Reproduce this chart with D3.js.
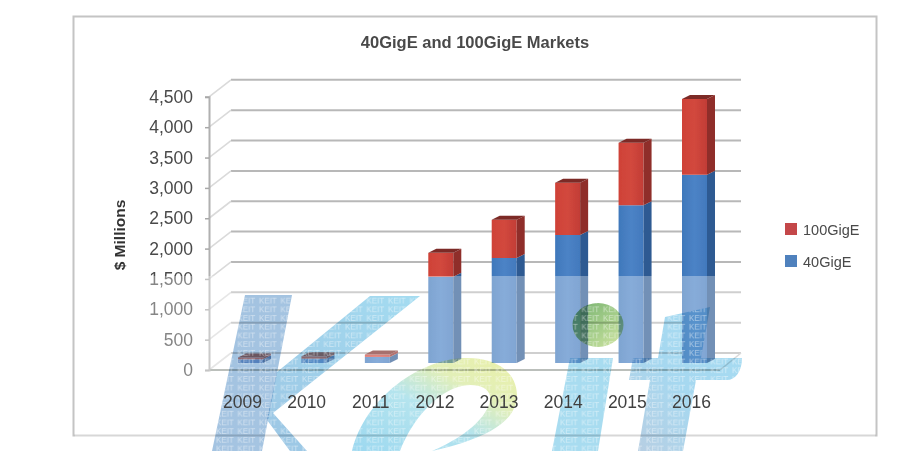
<!DOCTYPE html>
<html>
<head>
<meta charset="utf-8">
<script src="https://cdn.jsdelivr.net/npm/d3@7/dist/d3.min.js"></script>
<style>
html,body{margin:0;padding:0;background:#fff;overflow:hidden}
svg{display:block}
text{font-family:"Liberation Sans",Arial,sans-serif}
.wm{mix-blend-mode:multiply}
</style>
</head>
<body>
<svg id="c" width="913" height="451"></svg>
<script>
const years = ["2009","2010","2011","2012","2013","2014","2015","2016"];
const values40 = [60,70,100,1420,1730,2110,2600,3100];
const values100 = [30,40,40,395,630,860,1030,1250];
const yTicks = [0,500,1000,1500,2000,2500,3000,3500,4000,4500];
const legendItems = ["100GigE","40GigE"];
const titleText = "40GigE and 100GigE Markets";
const yTitle = "$ Millions";
const watermarkWord = "KEIT";

const svg = d3.select("#c");
const defs = svg.append("defs");
defs.append("filter").attr("id","soft").attr("x","-5%").attr("y","-5%").attr("width","110%").attr("height","110%")
  .append("feGaussianBlur").attr("stdDeviation",0.6);
defs.append("filter").attr("id","softer").attr("x","-5%").attr("y","-5%").attr("width","110%").attr("height","110%")
  .append("feGaussianBlur").attr("stdDeviation",0.35);

function grad(id,x1,y1,x2,y2,stops){
  const g = defs.append("linearGradient").attr("id",id).attr("x1",x1).attr("y1",y1).attr("x2",x2).attr("y2",y2);
  stops.forEach(s=>g.append("stop").attr("offset",s[0]).attr("stop-color",s[1]));
}
grad("gRed",0,0,1,0,[[0,"#cf4238"],[.5,"#d2483d"],[1,"#c23d36"]]);
grad("gBlue",0,0,1,0,[[0,"#3f78bb"],[.5,"#4c83c6"],[1,"#4279bd"]]);
grad("gK",0,0,1,1,[[0,"#a2c2e0"],[1,"#a6c5e2"]]);
grad("gArm",1,0,0,1,[[0,"#a4dcf1"],[1,"#9cc6e4"]]);
grad("gE",1,0,0,1,[[0,"#eaf0a8"],[.3,"#e2efb8"],[.55,"#b4e4ee"],[1,"#9cd8f0"]]);
grad("gDot",0,0,1,1,[[0,"#74b06f"],[.6,"#a9d08c"],[1,"#d3e6a4"]]);
grad("gT",0,0,1,1,[[0,"#a8d8ef"],[.5,"#aed9ef"],[1,"#b7cde2"]]);
grad("gT2",1,0,0,1,[[0,"#a6dcf2"],[.55,"#a6d8f0"],[1,"#b9cee2"]]);

const y0Front = 370, y0Back = 353, y0Bar = 363, pxPerUnit = 30.35/500;
const xFrontLeft = 209, xBackLeft = 231, xBackRight = 741, xFrontRight = 720;
const yFront = d3.scaleLinear().domain([0,4500]).range([y0Front,y0Front-4500*pxPerUnit]);
const yBack  = d3.scaleLinear().domain([0,4500]).range([y0Back,y0Back-4500*pxPerUnit]);
const yBar   = d3.scaleLinear().domain([0,4500]).range([y0Bar,y0Bar-4500*pxPerUnit]);
const xBar   = d3.scalePoint().domain(years).range([238,682]);
const xLabel = d3.scalePoint().domain(years).range([242,691]);
const barW = 25, depthX = 8, depthY = 4;

// chart frame
svg.append("rect").attr("x",73.5).attr("y",16.5).attr("width",803).attr("height",419)
  .attr("fill","#fff").attr("stroke","#c4c4c4").attr("stroke-width",2);

const chart = svg.append("g").attr("filter","url(#soft)");

// back gridlines and wall diagonals
chart.append("g").selectAll("line").data(yTicks).join("line")
  .attr("x1",xBackLeft).attr("x2",xBackRight)
  .attr("y1",d=>yBack(d)).attr("y2",d=>yBack(d))
  .attr("stroke","#b8b8b8").attr("stroke-width",2);
chart.append("g").selectAll("line").data(yTicks).join("line")
  .attr("x1",xFrontLeft).attr("x2",xBackLeft)
  .attr("y1",d=>yFront(d)).attr("y2",d=>yBack(d))
  .attr("stroke","#dadada").attr("stroke-width",1.6);
// floor
chart.append("line").attr("x1",xFrontLeft).attr("x2",xFrontRight).attr("y1",y0Front).attr("y2",y0Front)
  .attr("stroke","#9aa09a").attr("stroke-width",2);
chart.append("line").attr("x1",xFrontRight).attr("x2",xBackRight).attr("y1",y0Front).attr("y2",y0Back)
  .attr("stroke","#c8c8c8").attr("stroke-width",1.6);

// bars
const pts = a => a.map(p=>p.join(",")).join(" ");
function face(g,x,vLow,vHigh,fillFront,fillSide,fillTop,top){
  const yl = yBar(vLow), yh = yBar(vHigh);
  g.append("polygon").attr("fill",fillFront)
    .attr("points",pts([[x,yl],[x+barW,yl],[x+barW,yh],[x,yh]]));
  g.append("polygon").attr("fill",fillSide)
    .attr("points",pts([[x+barW,yl],[x+barW+depthX,yl-depthY],[x+barW+depthX,yh-depthY],[x+barW,yh]]));
  if(top) g.append("polygon").attr("fill",fillTop)
    .attr("points",pts([[x,yh],[x+barW,yh],[x+barW+depthX,yh-depthY],[x+depthX,yh-depthY]]));
}
const barsG = chart.append("g");
years.forEach((yr,i)=>{
  const x = xBar(yr);
  const g = barsG.append("g");
  face(g,x,0,values40[i],"url(#gBlue)","#2f5a92","#3a6aa6",false);
  face(g,x,values40[i],values40[i]+values100[i],"url(#gRed)","#8f2f2a","#7c2a26",true);
});

// value axis
const axisL = d3.axisLeft(yFront).tickValues(yTicks).tickSize(4).tickPadding(12).tickFormat(d3.format(","));
const ax = chart.append("g").attr("transform",`translate(${xFrontLeft},0)`).call(axisL);
ax.select(".domain").attr("stroke","#b0b0b0").attr("stroke-width",2);
ax.selectAll("line").attr("stroke","#a8a8a8").attr("stroke-width",1.5);
ax.selectAll("text").attr("font-size",17.5).attr("fill","#4a4a4a").style("font-family",'"Liberation Sans",Arial,sans-serif');

// titles
chart.append("text").attr("x",475).attr("y",48).attr("text-anchor","middle")
  .attr("font-size",16.5).attr("font-weight",700).attr("fill","#4a4a4a").text(titleText);
chart.append("text").attr("transform","translate(125,235) rotate(-90)").attr("text-anchor","middle")
  .attr("font-size",15.5).attr("font-weight",700).attr("fill","#333").text(yTitle);

// legend
const legColors = ["#c4474a","#4f81bd"];
const legY = d3.scalePoint().domain(legendItems).range([229,261]);
const leg = chart.append("g").selectAll("g").data(legendItems).join("g")
  .attr("transform",d=>`translate(785,${legY(d)})`);
leg.append("rect").attr("x",0).attr("y",-6).attr("width",12).attr("height",12).attr("fill",(d,i)=>legColors[i]);
leg.append("text").attr("x",18).attr("y",5.5).attr("font-size",14.5).attr("fill","#4a4a4a").text(d=>d);

// watermark wash
svg.append("rect").attr("x",75).attr("y",276).attr("width",800).attr("height",175).attr("fill","#fff").attr("opacity",.33);

// watermark letters
const shapes = [
 {d:"M245,295 L292,295 L262,451 L212,451 Z", f:"url(#gK)"},
 {d:"M277,372 L370,296 L420,296 L273,413 L307,451 L290,451 L267,420 Z", f:"url(#gArm)"},
 {d:"M352,451 C365,398 420,358 467,358 C500,358 517,375 517,395 C517,420 490,438 432,451 C470,435 492,412 490,396 C488,385 470,382 455,388 C430,398 410,425 400,451 Z", f:"url(#gE)"},
 {d:"M570,358 L613,358 L598,451 L552,451 Z", f:"#a8dcf0"},
 {d:"M665,317 L710,307 L701,358 L742,358 C742,372 735,380 727,380 L696,380 L683,451 L638,451 L650,380 L629,380 L633,358 L658,358 Z", f:"url(#gT2)"}
];
const wm = svg.append("g");
wm.selectAll("path.wm").data(shapes).join("path").attr("class","wm").attr("filter","url(#softer)").attr("d",d=>d.d).attr("fill",d=>d.f);
wm.append("ellipse").attr("class","wm").attr("filter","url(#softer)").attr("cx",598).attr("cy",325).attr("rx",25.5).attr("ry",22).attr("fill","url(#gDot)");

const pat = defs.append("pattern").attr("id","kp").attr("patternUnits","userSpaceOnUse").attr("width",21.5).attr("height",8.7);
pat.append("text").attr("x",1).attr("y",7.6).attr("font-size",8).attr("fill","#fff").attr("fill-opacity",.5).text(watermarkWord);
wm.selectAll("path.pt").data(shapes).join("path").attr("class","pt").attr("d",d=>d.d).attr("fill","url(#kp)");
wm.append("ellipse").attr("cx",598).attr("cy",325).attr("rx",25.5).attr("ry",22).attr("fill","url(#kp)");

// category axis sits above the watermark so its labels stay readable
const axisB = d3.axisBottom(xLabel).tickSize(0).tickPadding(0);
const bx = svg.append("g").attr("filter","url(#soft)").attr("transform","translate(0,395)").call(axisB);
bx.select(".domain").remove();
bx.selectAll("text").attr("font-size",17.5).attr("fill","#404040").attr("dy","0.35em").attr("y",7).style("font-family",'"Liberation Sans",Arial,sans-serif');
</script>
</body>
</html>
